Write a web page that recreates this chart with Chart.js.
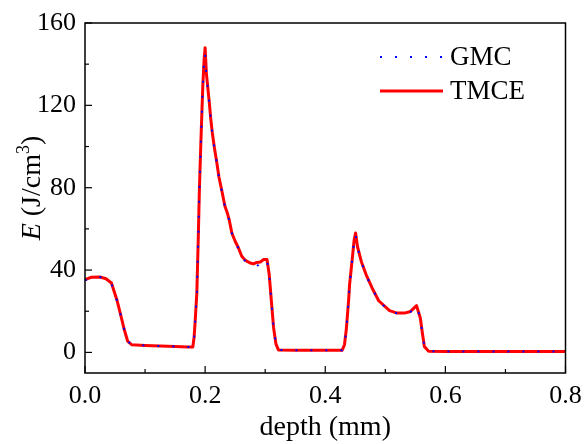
<!DOCTYPE html>
<html>
<head>
<meta charset="utf-8">
<script src="https://cdn.jsdelivr.net/npm/chart.js@4/dist/chart.umd.min.js"></script>
<style>
html,body{margin:0;padding:0;background:#fff;}
#wrap{width:585px;height:444px;position:relative;}
</style>
</head>
<body>
<div id="wrap"><canvas id="c" width="585" height="444"></canvas></div>
<script>
// ---- data ----
const depthTMCE = [0.000,0.010,0.025,0.035,0.044,0.053,0.059,0.065,0.071,0.078,0.100,0.125,0.150,0.172,0.1795,0.1817,0.1833,0.1862,0.1888,0.1905,0.1928,0.1945,0.1962,0.1983,0.2000,0.2020,0.2045,0.2070,0.2095,0.2120,0.2155,0.2195,0.2230,0.2280,0.2330,0.2370,0.2400,0.2445,0.2500,0.2555,0.2610,0.2670,0.2750,0.2805,0.2860,0.2920,0.2970,0.3030,0.3067,0.3100,0.3140,0.3180,0.3220,0.3500,0.4000,0.4280,0.4320,0.4350,0.4370,0.4390,0.4405,0.4430,0.4455,0.4480,0.4505,0.4538,0.4600,0.4680,0.4780,0.4890,0.5070,0.5195,0.5320,0.5420,0.5520,0.5583,0.5617,0.5650,0.5720,0.6000,0.7000,0.8000];
const energyTMCE = [35.3,36.5,36.6,35.8,33.7,25.6,18.7,11.5,5.5,3.7,3.4,3.1,2.9,2.6,2.6,7.5,14.6,28.9,58.0,79.6,101.0,115.5,129.8,142.3,148.0,135.8,128.5,121.2,113.1,106.6,99.3,92.1,85.2,78.3,71.0,67.7,64.5,58.0,54.0,50.7,46.7,44.7,43.4,43.0,43.7,43.9,45.1,45.1,37.8,26.0,12.0,4.0,1.2,1.0,1.0,1.0,3.7,11.0,18.3,25.6,32.9,39.9,47.0,54.4,58.0,51.2,44.2,37.8,31.3,25.1,20.3,19.1,19.1,19.9,22.7,16.7,9.4,2.9,0.6,0.5,0.4,0.4];
const depthGMC = depthTMCE.slice();
const energyGMC = [35.0,36.3,36.6,35.6,33.5,25.4,18.6,11.4,5.4,3.7,3.4,3.1,2.9,2.6,2.6,7.4,14.5,28.8,57.8,79.4,100.8,115.3,129.5,141.8,145.0,135.2,128.2,121.0,112.8,106.3,99.0,91.8,85.0,78.0,70.8,67.4,64.2,57.8,53.8,50.5,46.4,44.3,43.2,42.6,41.8,43.4,44.8,44.8,37.5,25.8,11.8,3.9,1.2,1.0,1.0,1.0,3.6,10.8,18.1,25.4,32.7,39.7,46.8,54.0,57.2,50.8,44.0,37.5,31.0,24.9,20.1,19.0,19.0,19.7,22.4,16.5,9.3,2.9,0.6,0.5,0.4,0.4];
const xTickValues = [0,0.1,0.2,0.3,0.4,0.5,0.6,0.7,0.8];
const yTickValues = [0,20,40,60,80,100,120,140,160];
const seriesNames = ['GMC','TMCE'];

const toPts = (xs, ys) => xs.map((x, i) => ({x: x, y: ys[i]}));
const FONT = 'Liberation Serif, Times New Roman, serif';

const frameTicks = {
  id: 'frameTicks',
  afterDraw(chart) {
    const ctx = chart.ctx;
    const a = chart.chartArea;
    ctx.save();
    ctx.strokeStyle = '#000';
    ctx.lineWidth = 1.5;
    ctx.strokeRect(a.left, a.top, a.right - a.left, a.bottom - a.top);
    ctx.lineWidth = 1.2;
    const xs = chart.scales.x, ys = chart.scales.y;
    xs.ticks.forEach(t => {
      const px = xs.getPixelForValue(t.value);
      const major = Math.abs(t.value / 0.2 - Math.round(t.value / 0.2)) < 1e-6;
      const L = major ? 7 : 4;
      ctx.beginPath(); ctx.moveTo(px, a.bottom); ctx.lineTo(px, a.bottom - L); ctx.stroke();
    });
    ys.ticks.forEach(t => {
      const py = ys.getPixelForValue(t.value);
      const major = t.value % 40 === 0;
      const L = major ? 7 : 4;
      ctx.beginPath(); ctx.moveTo(a.left, py); ctx.lineTo(a.left + L, py); ctx.stroke();
    });
    // y-axis title
    ctx.save();
    ctx.translate(40, 188);
    ctx.rotate(-Math.PI / 2);
    ctx.fillStyle = '#000';
    ctx.textBaseline = 'alphabetic';
    const fI = 'italic 28px ' + FONT, fN = '28px ' + FONT, fS = '18px ' + FONT;
    const parts = [[ 'E', fI, 0 ], [' (J/cm', fN, 0], ['3', fS, -11], [')', fN, 0]];
    let w = 0;
    parts.forEach(p => { ctx.font = p[1]; w += ctx.measureText(p[0]).width; });
    let x = -w / 2;
    parts.forEach(p => { ctx.font = p[1]; ctx.fillText(p[0], x, p[2]); x += ctx.measureText(p[0]).width; });
    ctx.restore();
    // legend
    const items = chart.data.datasets;
    const rows = [57, 91];
    items.forEach((ds, i) => {
      const y = rows[i];
      ctx.save();
      ctx.strokeStyle = ds.borderColor;
      ctx.lineWidth = ds.borderWidth;
      ctx.setLineDash(ds.borderDash || []);
      ctx.lineCap = 'butt';
      ctx.beginPath(); ctx.moveTo(380, y); ctx.lineTo(443, y); ctx.stroke();
      ctx.restore();
      ctx.fillStyle = '#000';
      ctx.font = '27px ' + FONT;
      ctx.textBaseline = 'middle';
      ctx.fillText(ds.label, 450, y + 1);
    });
    ctx.restore();
  }
};

new Chart(document.getElementById('c'), {
  type: 'line',
  data: {
    datasets: [
      { label: seriesNames[0], data: toPts(depthGMC, energyGMC), borderColor: '#0000ff', borderWidth: 2, borderDash: [2, 13], pointRadius: 0, tension: 0, fill: false },
      { label: seriesNames[1], data: toPts(depthTMCE, energyTMCE), borderColor: '#ff0000', borderWidth: 3, pointRadius: 0, tension: 0, fill: false, borderJoinStyle: 'round' }
    ]
  },
  options: {
    responsive: false,
    animation: false,
    layout: { padding: { top: 23, right: 19.5, left: 0, bottom: 0 } },
    plugins: { legend: { display: false }, tooltip: { enabled: false } },
    scales: {
      x: {
        type: 'linear', min: 0, max: 0.8,
        afterBuildTicks: s => { s.ticks = xTickValues.map(v => ({value: v})); },
        afterFit: s => { s.height = 71; s.paddingLeft = 0; s.paddingRight = 0; },
        grid: { display: false, drawTicks: false },
        border: { display: false },
        ticks: {
          color: '#000', font: { family: FONT, size: 26 }, padding: 8, maxRotation: 0, autoSkip: false,
          callback: v => (Math.abs(v / 0.2 - Math.round(v / 0.2)) < 1e-6 ? v.toFixed(1) : '')
        },
        title: { display: true, text: 'depth (mm)', color: '#000', font: { family: FONT, size: 28 }, padding: { top: 0, bottom: 0 } }
      },
      y: {
        type: 'linear', min: -10, max: 160,
        afterBuildTicks: s => { s.ticks = yTickValues.map(v => ({value: v})); },
        afterFit: s => { s.width = 85; s.paddingTop = 0; s.paddingBottom = 0; },
        grid: { display: false, drawTicks: false },
        border: { display: false },
        ticks: {
          color: '#000', font: { family: FONT, size: 26 }, padding: 9, autoSkip: false,
          callback: v => (v % 40 === 0 ? String(v) : '')
        }
      }
    }
  },
  plugins: [frameTicks]
});
</script>
</body>
</html>
